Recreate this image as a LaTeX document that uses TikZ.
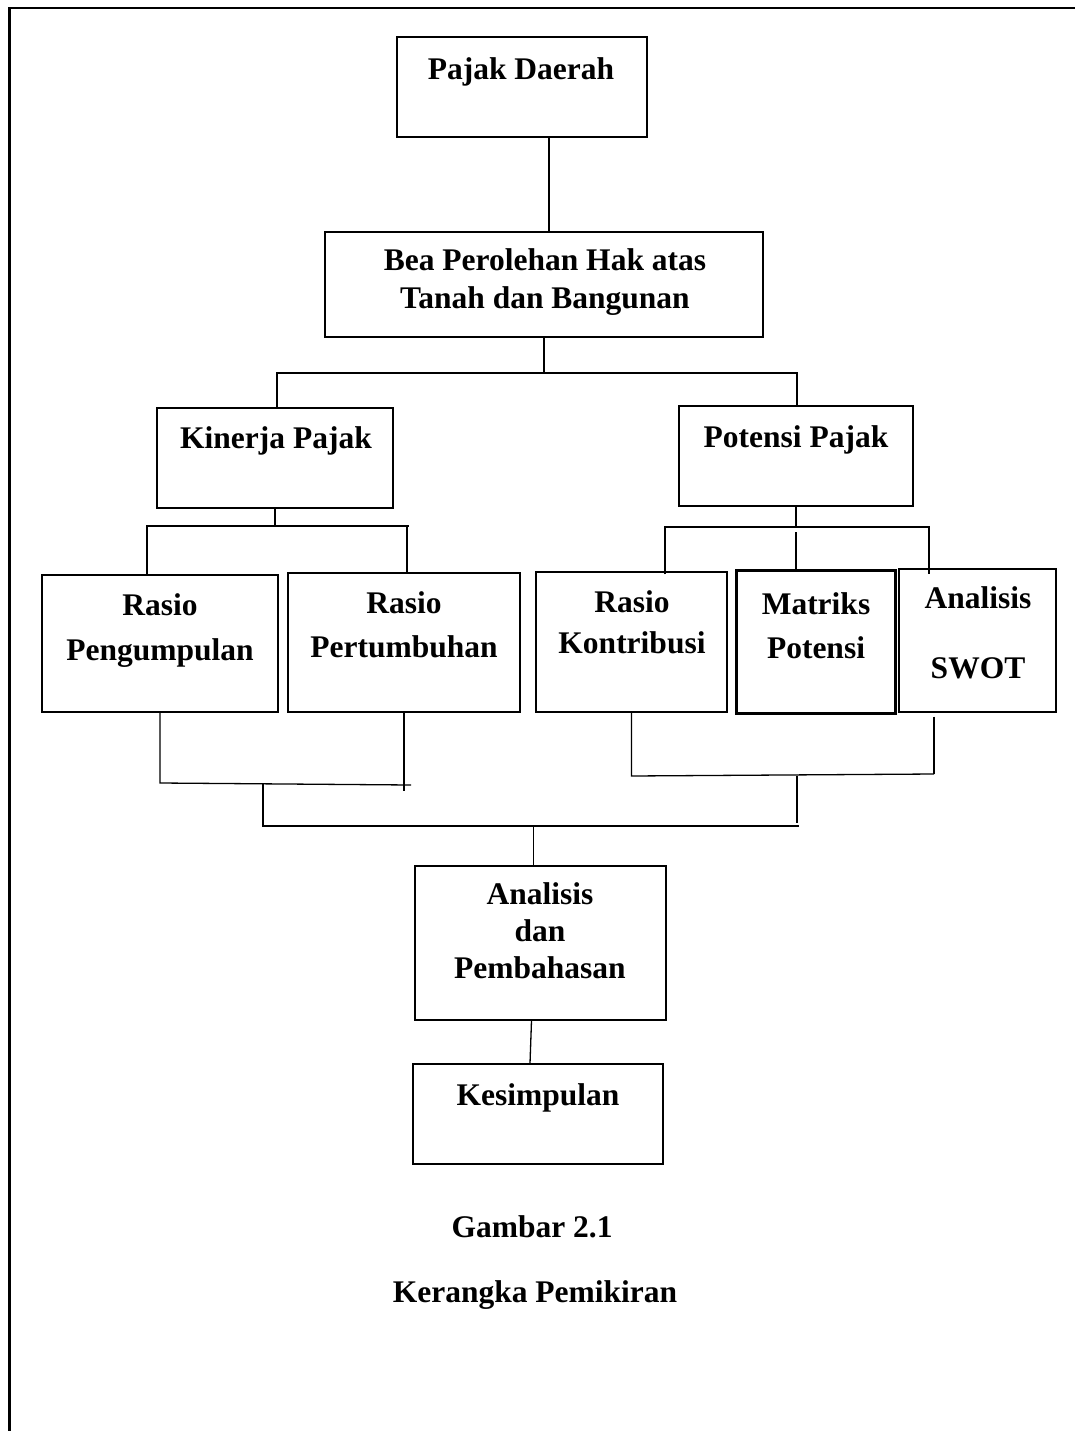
\documentclass[tikz,border=0pt]{standalone}
\usepackage{fontspec}
\setmainfont{Liberation Serif}

\begin{document}
\begin{tikzpicture}[x=1pt,y=-1pt,
  box/.style={draw,line width=1.3pt,inner sep=0pt},
  conn/.style={line width=1.3pt},
  txt/.style={font=\fontsize{31.5}{38}\selectfont\bfseries,inner sep=0pt,anchor=base,align=center}]

\useasboundingbox (0,0) rectangle (1075,1431);

% Frame (top and left only)
\draw[line width=2.5pt] (9.7,1431) -- (9.7,8.2) -- (1075,8.2);

% Boxes
\node[box,minimum width=250,minimum height=100] (daerah) at (522,87) {};
\node[box,minimum width=438,minimum height=105] (bphtb) at (544,284.5) {};
\node[box,minimum width=236,minimum height=100] (kinerja) at (275,458) {};
\node[box,minimum width=234,minimum height=100] (potensi) at (796,456) {};
\node[box,minimum width=236,minimum height=137] (pengumpulan) at (160,643.5) {};
\node[box,minimum width=232,minimum height=139] (pertumbuhan) at (404,642.5) {};
\node[box,minimum width=191,minimum height=140] (kontribusi) at (631.5,642) {};
\node[box,line width=3pt,minimum width=159,minimum height=143] (matriks) at (815.5,641.5) {};
\node[box,minimum width=157,minimum height=143] (swot) at (977.5,640.5) {};
\node[box,minimum width=251,minimum height=154] (analisis) at (540.5,943) {};
\node[box,minimum width=250,minimum height=100] (kesimpulan) at (538,1114) {};

% Texts (multi-line ones sit on their last baseline)
\node[txt] (t-daerah) at (521,80) {Pajak Daerah};
\node[txt] (t-bphtb) at (545,308) {Bea Perolehan Hak atas\\Tanah dan Bangunan};
\node[txt] (t-kinerja) at (276,448) {Kinerja Pajak};
\node[txt] (t-potensi) at (796,447) {Potensi Pajak};
\node[txt] (t-pengumpulan) at (160,660) {Rasio\\[7pt]Pengumpulan};
\node[txt] (t-pertumbuhan) at (404,657) {Rasio\\[6pt]Pertumbuhan};
\node[txt] (t-kontribusi) at (632,653) {Rasio\\[3pt]Kontribusi};
\node[txt] (t-matriks) at (816,658) {Matriks\\[6pt]Potensi};
\node[txt] (t-swot) at (978,678) {Analisis\\[32pt]SWOT};
\node[txt] (t-analisis) at (540,978) {Analisis\\[-1pt]dan\\[-1pt]Pembahasan};
\node[txt] (t-kesimpulan) at (538,1105) {Kesimpulan};

% Caption
\node[txt] (gambar) at (532,1237) {Gambar 2.1};
\node[txt] (judul) at (535,1302) {Kerangka Pemikiran};

% Junctions
\coordinate (split1) at (543,373);
\coordinate (kin-l) at (147,526);
\coordinate (kin-r) at (409,526);
\coordinate (pot-l) at (665,527);
\coordinate (pot-r) at (929,527);
\coordinate (join-l1) at (160,783);
\coordinate (join-l2) at (411,785);
\coordinate (join-r1) at (632,776);
\coordinate (join-r2) at (934,774);
\coordinate (mid-l) at (263,826);
\coordinate (mid-r) at (799,826);

% Pajak Daerah -> BPHTB
\draw[line width=2.5pt] ([xshift=5pt]bphtb.north) -- ([xshift=5pt]bphtb.north |- daerah.south);

% BPHTB -> Kinerja, Potensi
\draw[conn] (bphtb.south) -- (bphtb.south |- split1);
\draw[conn] ([xshift=2pt]kinerja.north) |- (split1) -| ([xshift=1pt]potensi.north);

% Kinerja -> two ratios
\draw[conn] (kinerja.south) -- (kinerja.south |- kin-l);
\draw[conn] (pengumpulan.north -| kin-l) |- (kin-r);
\draw[conn] ([xshift=-2pt]kin-r) -- ([xshift=-2pt]kin-r |- pertumbuhan.north);

% Potensi -> three tools
\draw[conn] (potensi.south) -- (potensi.south |- pot-l);
\draw[conn] ([yshift=-3pt]kontribusi.north -| pot-l) |- (pot-r) -- ([yshift=-6pt]swot.north -| pot-r);
\draw[conn] (potensi.south |- matriks.north) -- ++(0,-37);

% Left merge
\draw[conn] (pengumpulan.south) -- (join-l1) -- (join-l2);
\draw[conn] (pertumbuhan.south) -- ++(0,78);

% Right merge
\draw[conn] (kontribusi.south) -- (kontribusi.south |- join-r1) -- (join-r2);
\draw[conn] ([yshift=-4pt]join-r2 |- swot.south) -- (join-r2);

% Both groups -> Analisis
\draw[conn] (mid-l |- join-l1) -- (mid-l) -- (mid-r);
\draw[conn] ([xshift=-2pt]mid-r |- join-r1) -- ([xshift=-2pt,yshift=3pt]mid-r);
\draw[conn] ([xshift=-7pt]analisis.north) -- ([xshift=-7pt]analisis.north |- mid-l);

% Analisis -> Kesimpulan
\draw[conn] ([xshift=-9pt]analisis.south) -- ([xshift=-8pt]kesimpulan.north);

\end{tikzpicture}
\end{document}
